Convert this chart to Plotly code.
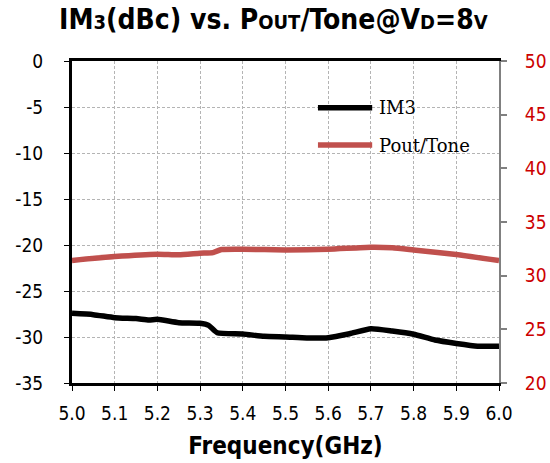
import plotly.graph_objects as go

# ---- data ----
im3_freq = [5.0, 5.05, 5.1, 5.15, 5.18, 5.2, 5.25, 5.3, 5.32, 5.34, 5.4, 5.45, 5.5,
            5.55, 5.6, 5.65, 5.7, 5.75, 5.8, 5.85, 5.9, 5.95, 6.0]
im3_dbc = [-27.43, -27.57, -27.9, -28.0, -28.15, -28.08, -28.44, -28.5, -28.73, -29.53,
           -29.67, -29.93, -30.0, -30.1, -30.07, -29.64, -29.1, -29.35, -29.7, -30.33,
           -30.7, -31.0, -31.0]
pout_freq = [5.0, 5.1, 5.2, 5.25, 5.3, 5.33, 5.35, 5.4, 5.5, 5.6, 5.7, 5.75, 5.8, 5.9, 6.0]
pout_dbm = [31.42, 31.78, 32.0, 31.94, 32.09, 32.15, 32.43, 32.46, 32.4, 32.46, 32.65,
            32.6, 32.4, 31.97, 31.4]

x_ticks = [5.0, 5.1, 5.2, 5.3, 5.4, 5.5, 5.6, 5.7, 5.8, 5.9, 6.0]
x_ticklabels = ["5.0", "5.1", "5.2", "5.3", "5.4", "5.5", "5.6", "5.7", "5.8", "5.9", "6.0"]
left_ticks = [0, -5, -10, -15, -20, -25, -30, -35]
left_ticklabels = ["0", "-5", "-10", "-15", "-20", "-25", "-30", "-35"]
right_ticks = [20, 25, 30, 35, 40, 45, 50]
series_names = ["IM3", "Pout/Tone"]

BLACK = "#000000"
RED = "#c0504d"
RED_TXT = "#cc0000"
GRID = "#b4b4b4"
SANS = "DejaVu Sans Condensed, DejaVu Sans, sans-serif"

fig = go.Figure()
fig.add_trace(go.Scatter(x=im3_freq, y=im3_dbc, mode="lines", name=series_names[0],
                         line=dict(color=BLACK, width=5.5, shape="spline", smoothing=0.5),
                         yaxis="y"))
fig.add_trace(go.Scatter(x=pout_freq, y=pout_dbm, mode="lines", name=series_names[1],
                         line=dict(color=RED, width=5.5, shape="spline", smoothing=0.5),
                         yaxis="y2"))

# manual legend (lines + labels) in paper coordinates
leg_y = [0.855, 0.739]
leg_col = [BLACK, RED]
for name, yy, col in zip(series_names, leg_y, leg_col):
    fig.add_shape(type="line", xref="paper", yref="paper", x0=0.576, x1=0.703, y0=yy, y1=yy,
                  line=dict(color=col, width=5.5))
    fig.add_annotation(x=0.714, y=yy, xref="paper", yref="paper", text=name, showarrow=False,
                       xanchor="left", yanchor="middle",
                       font=dict(family="DejaVu Serif, Liberation Serif, serif", size=18,
                                 color="#000000"))

sm = "<span style='font-size:20px'>"
title = ("IM" + sm + "3</span>(dBc) vs. P" + sm + "OUT</span>/Tone@V" + sm + "D</span>=8"
         + sm + "V</span>")

fig.update_layout(
    width=550, height=463,
    margin=dict(l=72, r=51, t=61, b=80, autoexpand=False),
    paper_bgcolor="white", plot_bgcolor="white",
    showlegend=False,
    title=dict(text="<b>" + title + "</b>", x=0.497, xanchor="center", y=0.958, yanchor="middle",
               font=dict(family=SANS, size=28, color="#000000"), automargin=False),
    xaxis=dict(range=[5.0, 6.0], tickvals=x_ticks, ticktext=x_ticklabels,
               showline=True, linecolor=BLACK, linewidth=3, mirror=True,
               ticks="outside", ticklen=5, tickcolor=BLACK, tickwidth=1,
               showgrid=True, gridcolor=GRID, griddash="3px,2px", gridwidth=1,
               zeroline=False, automargin=False, ticklabelstandoff=6,
               tickfont=dict(family=SANS, size=19, color="#000000"),
               title=dict(text="<b>Frequency(GHz)</b>", standoff=15,
                          font=dict(family=SANS, size=24, color="#000000"))),
    yaxis=dict(range=[-35, 0], tickvals=left_ticks, ticktext=left_ticklabels,
               showline=True, linecolor=BLACK, linewidth=3,
               ticks="outside", ticklen=5, tickcolor=BLACK, tickwidth=1,
               showgrid=True, gridcolor=GRID, griddash="3px,2px", gridwidth=1,
               zeroline=False, ticklabelstandoff=17, automargin=False,
               tickfont=dict(family=SANS, size=19, color="#000000")),
    yaxis2=dict(range=[20, 50], tickvals=right_ticks, overlaying="y", side="right",
                showline=True, linecolor="#808080", linewidth=2,
                ticks="outside", ticklen=6, tickcolor="#808080", tickwidth=2,
                showgrid=False, zeroline=False, ticklabelstandoff=14, automargin=False,
                tickfont=dict(family=SANS, size=19, color=RED_TXT)),
)

fig.write_html("out.html")
